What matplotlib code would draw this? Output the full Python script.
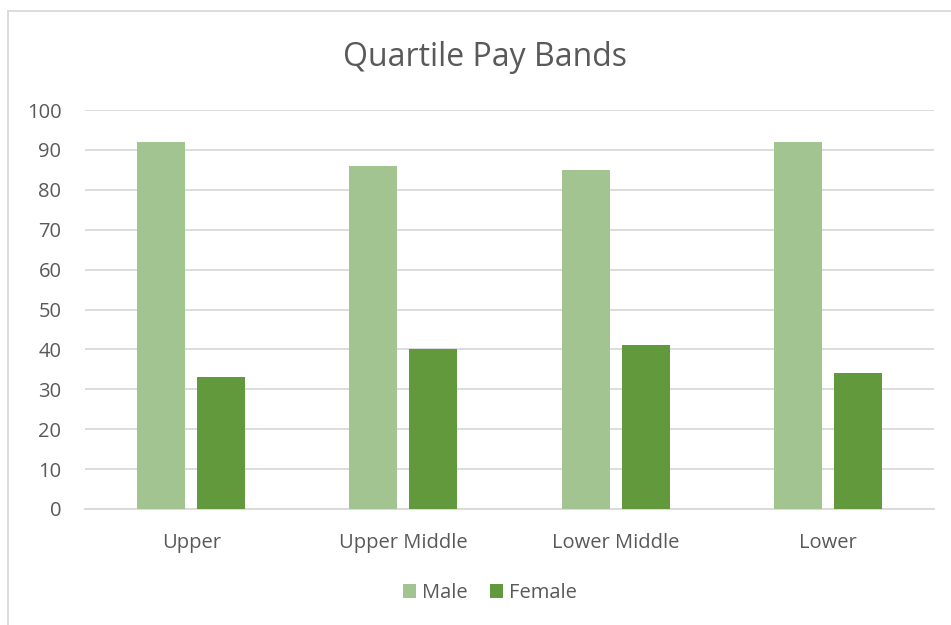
import matplotlib
matplotlib.use("Agg")
import matplotlib.pyplot as plt
import numpy as np
from matplotlib.lines import Line2D

categories = ["Upper", "Upper Middle", "Lower Middle", "Lower"]
male = [92, 86, 85, 92]
female = [33, 40, 41, 34]
yticks = [0, 10, 20, 30, 40, 50, 60, 70, 80, 90, 100]

plt.rcParams['font.family'] = ['Open Sans', 'DejaVu Sans']
txt = '#595959'
c_male = '#A2C490'
c_female = '#63993D'

fig = plt.figure(figsize=(9.51, 6.25), dpi=100)
ax = fig.add_axes([85/951, 116/625, (934-85)/951, (509-110)/625])

x = np.arange(len(categories))
w = 0.226
off = 0.141
ax.bar(x - off, male, w, color=c_male, label='Male', zorder=3)
ax.bar(x + off, female, w, color=c_female, label='Female', zorder=3)

ax.set_xlim(-0.5, len(categories) - 0.5)
ax.set_ylim(0, 100)
ax.set_yticks(yticks)
ax.set_yticklabels([str(v) for v in yticks], fontsize=14.5, color=txt)
ax.set_xticks(x)
ax.set_xticklabels(categories, fontsize=14.5, color=txt)
ax.tick_params(axis='both', length=0)
ax.tick_params(axis='y', pad=17)
ax.tick_params(axis='x', pad=17)
ax.grid(axis='y', color='#D9D9D9', linewidth=1.3, zorder=0)
for s in ['top', 'right', 'left']:
    ax.spines[s].set_visible(False)
ax.spines['bottom'].set_color('#D9D9D9')
ax.spines['bottom'].set_linewidth(1.3)

fig.text(485/951, 1 - 57/625, "Quartile Pay Bands", ha='center', va='center',
         fontsize=23, color=txt)

leg = fig.legend(loc='center', bbox_to_anchor=(490/951, 1 - 593/625), ncol=2,
                 frameon=False, fontsize=14.5, labelcolor=txt, handlelength=0.65,
                 handleheight=0.65, handletextpad=0.3, columnspacing=1.1)

# outer border
fig.add_artist(Line2D([8/951, 8/951], [0, 1 - 11/625], color='#D9D9D9', lw=1.3, transform=fig.transFigure))
fig.add_artist(Line2D([8/951, 1], [1 - 11/625, 1 - 11/625], color='#D9D9D9', lw=1.3, transform=fig.transFigure))

fig.savefig("out.png", dpi=100)
